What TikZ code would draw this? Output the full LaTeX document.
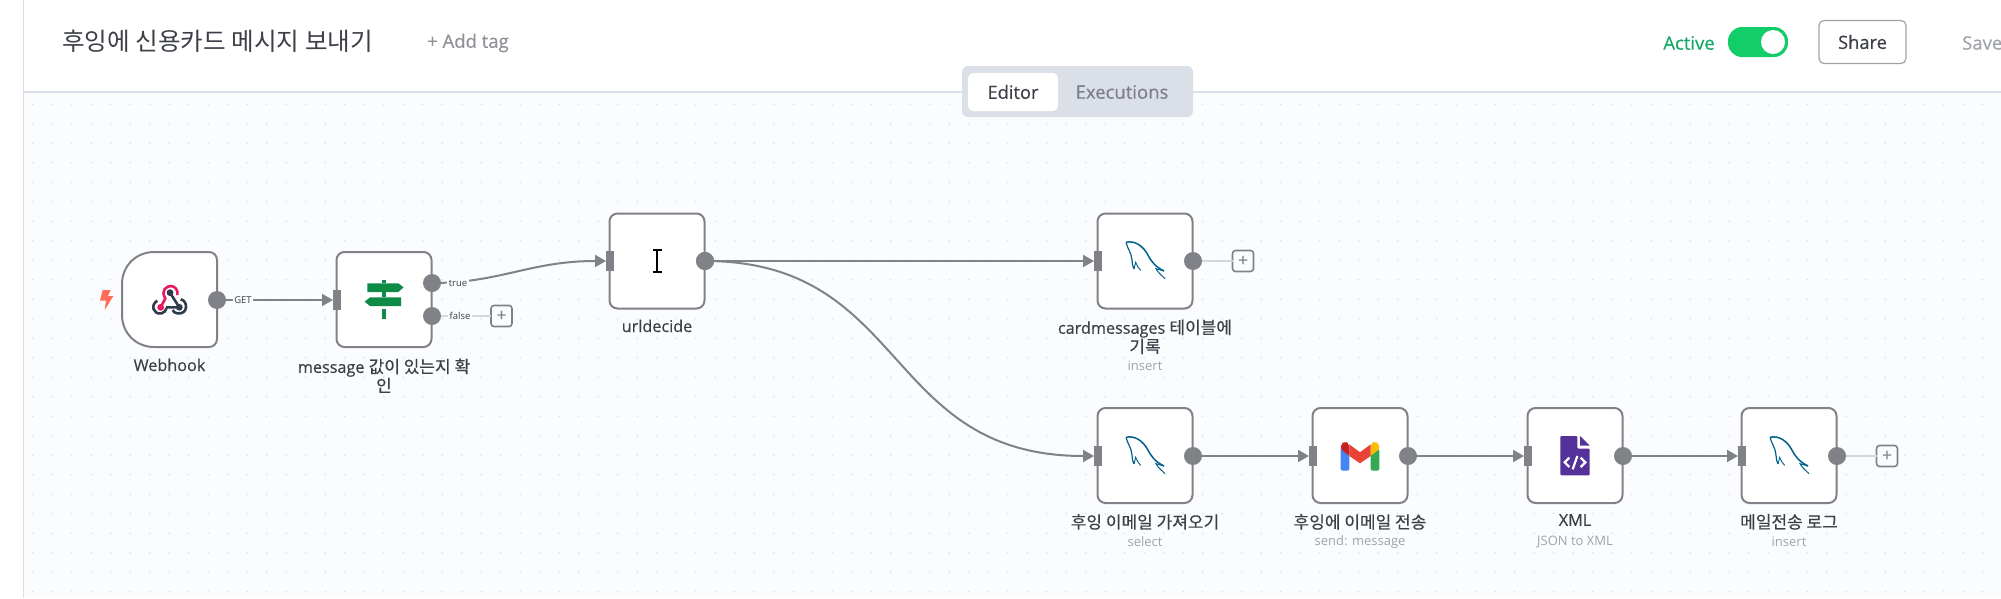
\documentclass[tikz,border=0pt]{standalone}
\usepackage{fontspec}
\setmainfont{Open Sans}
\newfontfamily\semi[FakeBold=0.45]{Open Sans}
\newfontfamily\kr[FakeBold=0.3]{Noto Sans CJK KR}
\newfontfamily\krtitle{Noto Sans CJK KR}
\usetikzlibrary{arrows.meta}
\definecolor{bgc}{HTML}{FBFCFE}
\definecolor{gridc}{HTML}{DCDFE8}
\definecolor{linec}{HTML}{DBDFE7}
\definecolor{edgec}{HTML}{808288}
\definecolor{inkc}{HTML}{3C3F47}
\definecolor{subc}{HTML}{A0A3AB}
\definecolor{stubc}{HTML}{D3D6E0}
\definecolor{dolph}{HTML}{00618A}
\definecolor{signc}{HTML}{0E8A47}
\definecolor{xmlc}{HTML}{54329A}
\definecolor{hookd}{HTML}{2F3B4A}
\definecolor{hookp}{HTML}{E8195F}
\definecolor{boltc}{HTML}{FF6D5A}
\definecolor{activec}{HTML}{17A868}
\definecolor{togglec}{HTML}{13CD69}
\definecolor{mutedc}{HTML}{8F9198}
\definecolor{execc}{HTML}{7D7F88}
\newcommand{\dolphinicon}[2]{%
\begin{scope}[zm={#1}{#2}]
\draw[dolph,line width=1.5pt] (228,127) .. controls (255,120) and (280,140) .. (292,162) .. controls (302,182) and (315,200) .. (342,213);
\draw[dolph,line width=1.2pt] (228,127) .. controls (232,145) and (245,160) .. (246,180) .. controls (247,192) and (248,200) .. (252,207);
\draw[dolph,line width=.9pt] (252,207) -- (257,187) -- (263,200) -- (272,211);
\draw[dolph,line width=1pt] (342,213) -- (318,206) .. controls (322,216) and (335,226) .. (345,236);
\end{scope}}
\tikzset{
 zm/.style 2 args={shift={(#1,#2)},x=.33333pt,y=-.33333pt},
 boxn/.style={draw=edgec,fill=white,line width=2pt,rounded corners=8pt,minimum width=95pt,minimum height=95pt,inner sep=0pt,outer sep=0pt},
 hole/.style={minimum width=95pt,minimum height=95pt,inner sep=0pt,outer sep=0pt},
 outdot/.style={circle,fill=edgec,minimum size=18pt,inner sep=0pt,outer sep=0pt},
 inbar/.style={fill=edgec,minimum width=8pt,minimum height=20pt,inner sep=0pt,outer sep=0pt},
 plusbox/.style={draw=edgec,fill=bgc,line width=1.6pt,rounded corners=3pt,minimum size=21pt,inner sep=0pt,outer sep=0pt,font=\semi\fontsize{17}{17}\selectfont,text=edgec},
 lbl/.style={anchor=north,align=center,text=inkc,inner sep=0pt,font=\semi\fontsize{16.2}{19}\selectfont},
 sublbl/.style={anchor=center,text=subc,inner sep=0pt,font=\fontsize{13}{13}\selectfont},
 edgelbl/.style={fill=bgc,text=inkc,inner sep=1.5pt,font=\fontsize{9.5}{10}\selectfont},
 conn/.style={draw=edgec,line width=2pt,-{Triangle[length=11pt,width=12pt,fill=edgec]}},
 stub/.style={draw=stubc,line width=2pt},
 hdr/.style={inner sep=0pt,font=\semi\fontsize{18.5}{18}\selectfont}
}
\newcommand{\kor}[1]{{\kr\fontsize{17}{19}\selectfont #1}}
\begin{document}
\begin{tikzpicture}[x=1pt,y=-1pt]
\useasboundingbox (0,0) rectangle (2001,598);
\fill[white] (0,0) rectangle (2001,598);
\fill[bgc] (23,92) rectangle (2001,598);
\foreach \i in {0,...,101}{\foreach \j in {0,...,25}{\fill[gridc] ({32.7+19.5*\i},{104.2+19.5*\j}) circle[radius=.9pt];}}
\draw[linec,line width=1.6pt] (23.5,0) -- (23.5,598);
\draw[linec,line width=1.6pt] (23,92) -- (2001,92);
% header
\node[anchor=west,inner sep=0pt,text=inkc,font=\krtitle\fontsize{24.6}{26}\selectfont] (title) at (62,41) {후잉에 신용카드 메시지 보내기};
\node[anchor=west,hdr,text=mutedc] (addtag) at (427,43) {+ Add tag};
\node[hdr,text=activec] (active) at (1689,43) {Active};
\node[fill=togglec,minimum width=60pt,minimum height=30pt,rounded corners=14pt,inner sep=0pt] (toggle) at (1758,42) {};
\node[circle,fill=white,minimum size=24pt,inner sep=0pt] (knob) at (1773,42) {};
\node[draw=subc,line width=1.2pt,fill=white,rounded corners=5pt,minimum width=87pt,minimum height=43pt,inner sep=0pt,text=inkc,font=\semi\fontsize{18.3}{18}\selectfont] (share) at (1862.5,42) {Share};
\node[anchor=west,hdr,text=subc] (save) at (1962,43) {Save};
\node[fill=linec,rounded corners=6pt,minimum width=231pt,minimum height=51pt,inner sep=0pt] (tabs) at (1077.5,91.5) {};
\node[fill=white,rounded corners=5pt,minimum width=90pt,minimum height=38pt,inner sep=0pt,text=inkc,font=\semi\fontsize{18.3}{18}\selectfont] (editor) at (1013,92) {Editor};
\node[hdr,text=execc] (exec) at (1122,92) {Executions};
% nodes
\node[hole] (wh) at (169.5,299.5) {};
\draw[edgec,fill=white,line width=2pt]
 ([xshift=-8pt]wh.north east) -- ([xshift=32pt]wh.north west)
 .. controls ([xshift=14pt]wh.north west) and ([yshift=-14pt]wh.north west) .. ([yshift=-32pt]wh.north west)
 -- ([yshift=32pt]wh.south west)
 .. controls ([yshift=14pt]wh.south west) and ([xshift=14pt]wh.south west) .. ([xshift=32pt]wh.south west)
 -- ([xshift=-8pt]wh.south east)
 .. controls ([xshift=-3.5pt]wh.south east) and ([yshift=3.5pt]wh.south east) .. ([yshift=8pt]wh.south east)
 -- ([yshift=-8pt]wh.north east)
 .. controls ([yshift=-3.5pt]wh.north east) and ([xshift=-3.5pt]wh.north east) .. cycle;
\node[boxn] (ifn) at (384,299.5) {};
\node[boxn] (url) at (657,261) {};
\node[boxn] (card) at (1145,261) {};
\node[boxn] (sel) at (1145,455.5) {};
\node[boxn] (gm) at (1360,455.5) {};
\node[boxn] (xml) at (1575,455.5) {};
\node[boxn] (log) at (1789,455.5) {};
% connectors
\node[outdot] (whout) at (217,300) {};
\node[outdot] (iftrue) at (432,283) {};
\node[outdot] (iffalse) at (432,316) {};
\node[outdot] (urlout) at (705,261) {};
\node[outdot] (cardout) at (1193,261) {};
\node[outdot] (selout) at (1193,456) {};
\node[outdot] (gmout) at (1408,456) {};
\node[outdot] (xmlout) at (1623,456) {};
\node[outdot] (logout) at (1837,456) {};
\node[inbar] (ifin) at (337,300) {};
\node[inbar] (urlin) at (610,261) {};
\node[inbar] (cardin) at (1098,261) {};
\node[inbar] (selin) at (1098,456) {};
\node[inbar] (gmin) at (1313,456) {};
\node[inbar] (xmlin) at (1528,456) {};
\node[inbar] (login) at (1742,456) {};
\node[plusbox] (plusif) at (501.5,316) {+};
\node[plusbox] (pluscard) at (1243,261) {+};
\node[plusbox] (pluslog) at (1887,456) {+};
\draw[stub] (iffalse) -- (plusif);
\draw[stub] (cardout) -- (pluscard);
\draw[stub] (logout) -- (pluslog);
\draw[conn] (whout) -- (ifin.west);
\draw[conn] (iftrue.center) .. controls (500,283) and (530,261) .. (urlin.west);
\draw[conn] (urlout.center) -- (cardin.west);
\draw[conn] (urlout.center) .. controls (909,261) and (883,456) .. (selin.west);
\draw[conn] (selout) -- (gmin.west);
\draw[conn] (gmout) -- (xmlin.west);
\draw[conn] (xmlout) -- (login.west);
\fill[edgec] (urlout) circle[radius=9pt];
\node[edgelbl] (get) at (243,300) {GET};
\node[edgelbl] (ltrue) at (458,283) {true};
\node[edgelbl] (lfalse) at (460,316) {false};
% labels
\node[lbl] (t1) at (169.5,358.5) {Webhook};
\node[lbl] (t2) at (384,358.5) {message \kor{값이 있는지 확}\\\kor{인}};
\node[lbl] (t3) at (657,319.5) {urldecide};
\node[lbl] (t4) at (1145,319.5) {cardmessages \kor{테이블에}\\\kor{기록}};
\node[sublbl] (s4) at (1145,366) {insert};
\node[lbl] (t5) at (1145,514) {\kor{후잉 이메일 가져오기}};
\node[sublbl] (s5) at (1145,542) {select};
\node[lbl] (t6) at (1360,514) {\kor{후잉에 이메일 전송}};
\node[sublbl] (s6) at (1360,542) {send: message};
\node[lbl] (t7) at (1575,514) {XML};
\node[sublbl] (s7) at (1575,542) {JSON to XML};
\node[lbl] (t8) at (1789,514) {\kor{메일전송 로그}};
\node[sublbl] (s8) at (1789,542) {insert};
% icons
\begin{scope}[zm={90}{230}]
\fill[boltc] (38,180) -- (62,180) -- (54,198) -- (70,198) -- (44,240) -- (48,212) -- (30,212) -- cycle;
\draw[line width=2.6pt,hookd] (240,188) -- (268,232) -- (228,232);
\draw[line width=2.6pt,hookd] (272,208) .. controls (295,212) and (295,255) .. (262,250) .. controls (255,250) and (250,245) .. (248,240);
\draw[line width=2.6pt,hookd] (202,212) .. controls (180,225) and (190,255) .. (215,250) .. controls (222,248) and (228,242) .. (230,234);
\fill[hookd] (240,188) circle[radius=3.4pt];
\fill[hookd] (268,232) circle[radius=3.4pt];
\draw[line width=2.6pt,hookp] (212,232) -- (226,205) .. controls (210,180) and (232,168) .. (242,168) .. controls (255,168) and (265,180) .. (262,195);
\fill[hookp] (212,232) circle[radius=3.4pt];
\fill[signc] (832,160) -- (925,160) -- (941,172) -- (925,186) -- (832,186) -- cycle;
\fill[signc] (840,202) -- (933,202) -- (933,228) -- (840,228) -- (824,215) -- cycle;
\fill[signc] (875,150) rectangle (889,160);
\fill[signc] (875,186) rectangle (889,202);
\fill[signc] (875,238) rectangle (889,268);
\end{scope}
\begin{scope}[zm={590}{200}]
\draw[black,line width=2.2pt] (202,150) -- (202,215);
\draw[black,line width=1.7pt] (188,150) -- (216,150);
\draw[black,line width=1.7pt] (188,215) -- (216,215);
\end{scope}
\dolphinicon{1050}{200}
\dolphinicon{1050}{395}
\dolphinicon{1694}{395}
\begin{scope}[zm={1060}{400}]
\definecolor{gb}{HTML}{4285F4}\definecolor{gg}{HTML}{34A853}\definecolor{gy}{HTML}{FBBC04}\definecolor{gr}{HTML}{EA4335}\definecolor{gd}{HTML}{C5221F}
\fill[gb,rounded corners=2pt] (842,140) -- (868,140) -- (868,212) -- (842,212) -- cycle;
\fill[gg,rounded corners=2pt] (932,147) -- (958,147) -- (958,212) -- (932,212) -- cycle;
\fill[gy,rounded corners=2pt] (932,133) -- (945,123) -- (958,135) -- (958,147) -- (932,168) -- cycle;
\fill[gd,rounded corners=2pt] (842,135) -- (855,123) -- (868,133) -- (868,168) -- (842,147) -- cycle;
\fill[gr] (868,133) -- (900,157) -- (932,133) -- (932,168) -- (900,190) -- (868,168) -- cycle;
\end{scope}
\begin{scope}[zm={1490}{400}]
\fill[xmlc,rounded corners=1pt] (211,108) -- (262,108) -- (262,146) -- (299,146) -- (299,226) -- (211,226) -- cycle;
\fill[xmlc] (270,108) -- (299,137) -- (270,137) -- cycle;
\draw[white,line width=2.2pt] (238,173) -- (224,187) -- (238,201);
\draw[white,line width=2.2pt] (272,173) -- (286,187) -- (272,201);
\draw[white,line width=2.2pt] (262,168) -- (248,208);
\end{scope}
\end{tikzpicture}
\end{document}
